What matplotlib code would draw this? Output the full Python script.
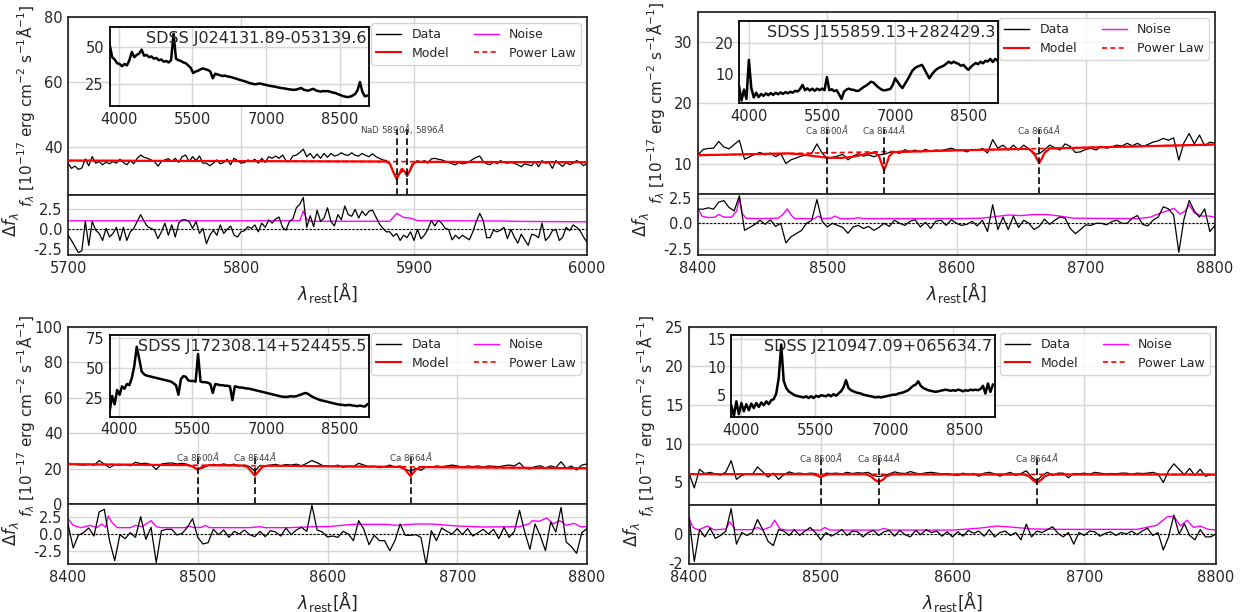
import numpy as np
import matplotlib
matplotlib.use("Agg")
import matplotlib.pyplot as plt
from matplotlib.ticker import FormatStrFormatter
from matplotlib.lines import Line2D

# ---------------------------------------------------------------- data
# Panel 1: SDSS J024131.89-053139.6, 5700-6000 A (2 A sampling)
P1_NAME = "SDSS J024131.89-053139.6"
P1_RANGE = [5700, 6000]
P1_FLUX = [35.0, 33.4, 34.1, 33.1, 33.5, 36.3, 34.2, 37.0, 35.0, 35.5,
           34.5, 35.3, 34.8, 35.5, 35.0, 36.2, 35.2, 34.5, 35.8, 34.8,
           36.5, 37.5, 36.8, 36.5, 36.0, 35.5, 34.1, 35.5, 36.0, 36.4,
           35.5, 36.5, 35.2, 37.0, 37.5, 35.5, 37.0, 35.8, 37.2, 35.0,
           35.0, 34.2, 35.0, 36.0, 34.8, 35.2, 36.2, 34.5, 36.5, 35.8,
           35.0, 35.2, 36.0, 35.5, 36.2, 35.0, 36.5, 35.2, 37.0, 36.5,
           37.2, 36.5, 37.5, 35.8, 35.5, 37.2, 37.5, 38.3, 39.3, 37.0,
           38.0, 36.5, 37.8, 36.5, 38.0, 36.8, 38.0, 37.2, 37.5, 38.2,
           37.6, 37.4, 38.2, 37.4, 37.2, 38.0, 37.4, 37.0, 37.9, 37.0,
           36.5, 36.0, 35.8, 34.8, 32.5, 30.6, 31.9, 32.9, 30.9, 32.9,
           35.0, 35.8, 35.2, 35.8, 35.0, 36.3, 36.5, 36.2, 36.0, 35.6,
           35.2, 34.8, 34.5, 35.2, 34.8, 35.0, 35.5, 36.2, 36.8, 37.2,
           35.5, 34.8, 34.5, 35.5, 34.8, 35.8, 35.2, 35.0, 35.2, 35.0,
           34.5, 33.9, 34.8, 34.5, 34.2, 35.5, 33.9, 35.8, 35.0, 35.2,
           33.4, 35.8, 34.8, 34.0, 35.2, 34.5, 35.0, 35.8, 35.2, 34.2,
           35.0]
P1_RESID = [-0.73, -1.38, -2.15, -2.9, -2.67, 1.0, -2.0, 1.0, -0.1, -0.5,
            -1.38, 0.13, -0.95, -0.5, 0.26, -1.38, 0.26, -1.38, -0.3, 0.13,
            1.0, 1.85, 1.0, 0.34, 0.13, -0.1, -1.16, -0.3, 0.78, -0.73,
            0.56, -0.95, 0.78, 1.2, 1.2, 1.0, 0.13, 1.0, -0.5, 0.13,
            -1.8, -0.73, -0.1, -0.73, 0.56, -0.5, 0.0, 0.43, -0.73, -0.95,
            -0.3, -0.17, 0.34, 0.13, 0.56, -0.3, 0.78, 0.26, 1.2, 0.78,
            1.3, 1.55, 0.26, -0.1, 1.0, 1.3, 2.7, 3.15, 4.0, 0.26,
            1.7, 0.34, 2.4, 1.0, 1.42, 2.7, 1.0, 0.43, 1.85, 1.2,
            2.93, 1.85, 1.64, 2.5, 1.42, 2.28, 1.72, 2.28, 2.41, 1.55,
            0.69, 0.13, -0.3, -0.3, -0.86, -0.52, -1.38, -0.73, -1.03, -0.3,
            -1.38, 0.0, -1.16, -0.73, 0.0, 1.12, 0.43, 1.12, 0.78, 0.13,
            0.0, -1.3, -0.73, -1.16, -0.73, -1.03, -1.3, -0.3, 1.0, 2.0,
            1.12, -1.03, -1.03, -0.09, -0.3, -0.1, 0.26, -1.16, 0.0, -0.95,
            -1.72, -0.6, -1.3, -2.0, -0.6, -0.73, -1.03, 0.78, -1.38, -0.95,
            -0.17, 0.0, -1.38, -0.95, 0.26, -0.17, 0.56, 0.26, -0.17, -0.95,
            -1.6]
P1_NOISE_WL = [5700, 5834, 5836, 5838, 5840, 5886, 5890, 5894, 5898, 5902, 5950, 5960, 6000]
P1_NOISE = [1.08, 1.08, 2.3, 1.25, 1.02, 1.02, 2.0, 1.5, 1.4, 1.1, 1.05, 1.0, 0.95]
P1_MODEL_WL = [5700, 5884, 5886, 5888, 5890, 5891.5, 5893, 5894.5, 5896, 5897.5, 5899, 5901, 6000]
P1_MODEL = [35.8, 35.5, 34.9, 32.3, 30.1, 31.8, 33.3, 32.4, 31.4, 32.6, 34.6, 35.4, 35.3]
P1_PL_WL = [5700, 6000]
P1_PL = [35.8, 35.3]
P1_LINES = [5890, 5896]
P1_LABELS = [r"NaD 5890$\AA$, 5896$\AA$"]
P1_LABEL_X = [5893.5]
P1_INSET_RANGE = [3815, 9065]
P1_INSET = [51, 43, 41.5, 39, 38.5, 37, 38.5, 37.5, 41, 46.5,
            43, 44.5, 45.5, 48, 44, 44.5, 43, 43.5, 42, 42.5,
            41, 41.5, 40, 40.5, 39.5, 41, 58.5, 42, 41, 40.5,
            39.5, 39, 37.5, 36, 32.5, 33.5, 34, 35, 35.5, 35,
            34.5, 33.5, 29, 32, 31.5, 31, 30.5, 30.8, 30.2, 30,
            29.5, 29, 28.5, 28, 27.5, 27, 26.5, 25.8, 25.5, 25,
            25.2, 25.6, 25.2, 24.8, 24.5, 24, 23.8, 23.5, 23.2, 22.8,
            22.5, 22.3, 22, 21.7, 21.5, 21.3, 21.5, 22, 22.6, 21.5,
            21, 20.8, 21.5, 22, 21, 20.5, 20.2, 20.5, 20.4, 20.5,
            20, 19.5, 19.2, 18.5, 17.9, 17.2, 16.8, 16.5, 16.8, 17.5,
            18.5, 21, 26.5, 20, 17, 17.5]

# Panel 2: SDSS J155859.13+282429.3, 8400-8800 A (4 A sampling)
P2_NAME = "SDSS J155859.13+282429.3"
P2_RANGE = [8400, 8800]
P2_FLUX = [11.5, 12.4, 12.56, 12.6, 13.7, 12.8, 12.5, 13.2, 13.9, 10.8,
           11.2, 11.6, 11.9, 11.5, 11.8, 11.2, 11.7, 10.1, 10.7, 11.0,
           11.3, 11.5, 11.75, 13.3, 11.8, 10.9, 11.1, 11.3, 11.6, 10.7,
           11.3, 11.7, 11.3, 11.5, 11.2, 11.5, 11.6, 11.9, 12.0, 11.75,
           12.35, 12.0, 12.3, 12.0, 12.4, 12.1, 12.3, 12.2, 12.4, 12.6,
           12.3, 12.3, 12.0, 12.4, 12.2, 12.56, 11.8, 14.0, 12.6, 13.1,
           12.3, 13.1, 12.3, 13.1, 12.5, 11.6, 11.7, 12.3, 13.1, 12.7,
           12.3, 13.3, 12.9, 11.9, 12.0, 12.4, 12.6, 12.3, 12.9, 12.6,
           12.8, 13.1, 12.95, 13.4, 13.0, 13.4, 12.9, 13.2, 13.6, 13.8,
           14.2, 13.9, 14.3, 10.65, 13.5, 15.0, 13.3, 14.75, 13.0, 13.6,
           13.4]
P2_RESID = [1.37, 1.37, 1.5, 1.37, 2.05, 2.2, 1.54, 1.2, 2.67, -0.68,
            -0.4, -0.1, 0.3, -0.1, 0.34, -0.3, 0.0, -1.9, -1.3, -1.0,
            -0.7, 0.0, 0.3, 2.3, 0.2, -0.35, 0.0, -0.2, -0.4, -0.96,
            -0.35, -0.2, -0.5, -0.3, -0.68, -0.4, 0.0, -0.3, 0.3, 0.0,
            -0.2, 0.2, 0.34, -0.35, 0.1, -0.5, 0.2, 0.3, -0.2, 0.34,
            0.0, -0.2, -0.1, 0.2, -0.25, 0.3, -0.8, 1.8, -0.6, 0.6,
            -0.6, 0.7, -0.4, 0.3, 0.0, -0.6, -0.3, 0.4, -0.1, 0.3,
            0.6, 0.5, -0.5, -1.0, -0.6, -0.15, -0.2, 0.0, 0.0, -0.15,
            0.15, 0.3, 0.0, 0.0, 0.5, 0.75, -0.1, -0.25, 0.3, 0.6,
            1.6, 1.4, 0.8, -2.8, 0.4, 2.2, 1.2, 0.6, 1.4, -0.8,
            -0.2]
P2_NOISE_WL = [8400, 8403, 8408, 8413, 8416, 8420, 8426, 8430, 8432, 8434, 8437, 8445,
               8462, 8466, 8469, 8472, 8475, 8490, 8493, 8496, 8503, 8506, 8510, 8520,
               8524, 8528, 8600, 8620, 8640, 8650, 8660, 8670, 8680, 8690, 8740, 8750,
               8758, 8765, 8768, 8773, 8777, 8780, 8784, 8790, 8795, 8800]
P2_NOISE = [1.45, 0.7, 0.55, 0.6, 0.85, 0.6, 0.6, 1.2, 2.5, 1.0, 0.5, 0.45,
            0.5, 0.9, 1.4, 0.8, 0.45, 0.45, 0.7, 0.45, 0.5, 0.7, 0.45, 0.45,
            0.55, 0.45, 0.45, 0.5, 0.8, 0.75, 0.85, 0.85, 0.7, 0.5, 0.45, 0.6,
            1.0, 1.3, 1.45, 0.9, 1.2, 1.8, 1.0, 0.7, 0.7, 0.6]
P2_MODEL_WL = [8400, 8470, 8480, 8490, 8500, 8510, 8520, 8530, 8537, 8540, 8542, 8544,
               8546, 8548, 8551, 8600, 8656, 8660, 8662, 8664, 8666, 8668, 8672, 8700, 8800]
P2_MODEL = [11.45, 11.75, 11.6, 11.3, 11.05, 11.0, 11.2, 11.65, 11.9, 11.3, 10.1, 9.0,
            10.1, 11.3, 11.95, 12.25, 12.5, 11.8, 10.9, 10.2, 10.9, 11.8, 12.55, 12.7, 13.2]
P2_PL_WL = [8400, 8500, 8600, 8700, 8800]
P2_PL = [11.45, 11.85, 12.25, 12.7, 13.2]
P2_LINES = [8500, 8544, 8664]
P2_LABELS = [r"Ca 8500$\AA$", r"Ca 8544$\AA$", r"Ca 8664$\AA$"]
P2_LABEL_X = [8500, 8544, 8664]
P2_INSET_RANGE = [3805, 9095]
P2_INSET = [6.0, 1.5, 5.0, 2.0, 14.5, 5.5, 2.5, 4.0, 2.6, 3.6,
            3.0, 3.8, 3.2, 3.9, 3.3, 4.0, 3.5, 4.1, 3.6, 4.2,
            3.8, 4.3, 4.0, 4.6, 4.4, 5.2, 6.5, 4.8, 5.4, 4.7,
            5.3, 4.6, 5.3, 4.8, 5.3, 4.8, 9.0, 4.8, 5.1, 4.5,
            4.8, 3.5, 2.0, 4.3, 5.0, 5.3, 5.0, 4.9, 4.6, 4.6,
            5.2, 5.8, 6.2, 6.8, 7.5, 7.3, 6.5, 5.8, 5.2, 4.8,
            4.8, 5.0, 5.2, 6.5, 8.6, 7.5, 6.3, 5.5, 6.8, 8.1,
            9.5, 11.0, 11.8, 12.3, 12.6, 12.9, 11.5, 10.0, 8.6, 9.8,
            10.8, 11.5, 12.0, 12.3, 12.7, 13.3, 13.9, 13.4, 13.9, 13.5,
            13.2, 12.6, 12.9, 12.0, 11.3, 12.2, 12.9, 13.5, 13.1, 13.9,
            13.4, 14.2, 14.0, 14.8, 13.8, 14.8, 14.2]

# Panel 3: SDSS J172308.14+524455.5, 8400-8800 A (4 A sampling)
P3_NAME = "SDSS J172308.14+524455.5"
P3_RANGE = [8400, 8800]
P3_FLUX = [23.0, 22.6, 22.2, 22.0, 22.4, 21.9, 24.5, 22.6, 20.5, 22.2,
           22.0, 22.3, 21.6, 23.6, 22.8, 23.0, 22.2, 19.5, 22.6, 23.0,
           23.2, 22.6, 23.0, 22.4, 21.0, 19.8, 20.4, 21.8, 22.4, 22.0,
           22.6, 22.0, 22.5, 21.5, 22.0, 21.1, 18.6, 21.8, 21.5, 22.0,
           22.4, 21.6, 22.3, 22.0, 22.5, 21.6, 23.0, 24.6, 23.3, 21.8,
           21.5, 21.1, 22.0, 20.7, 21.5, 21.1, 23.0, 22.0, 21.1, 21.4,
           20.5, 21.0, 22.0, 20.8, 21.5, 19.6, 18.5, 20.2, 19.0, 21.1,
           20.7, 21.5, 21.1, 21.5, 22.0, 21.5, 20.8, 21.5, 21.1, 21.5,
           20.8, 21.5, 21.3, 21.1, 21.6, 22.0, 21.5, 23.3, 20.2, 19.8,
           21.1, 21.6, 20.3, 21.5, 20.6, 23.9, 20.2, 21.5, 19.2, 22.0,
           22.6]
P3_RESID = [1.5, -2.1, -0.17, 0.2, 0.9, -0.3, 3.3, 3.7, -1.0, -4.0,
            -0.1, -0.7, 0.2, -0.5, 2.6, -0.8, 1.0, -4.3, 0.5, 0.7,
            0.7, -0.15, 0.1, 1.0, 2.3, -0.5, -1.5, -1.3, 0.7, -0.1,
            0.6, -0.5, 0.4, 0.0, 0.6, -0.1, -0.4, 0.4, -0.4, 0.5,
            0.3, -0.3, 0.9, -0.1, 0.6, 1.0, 0.4, 4.3, 0.6, 0.3,
            -0.45, -0.3, -0.5, 0.4, 0.0, -1.0, 2.0, 0.7, -1.6, -0.2,
            -1.0, -1.0, -2.5, -1.0, 1.5, -0.2, -0.2, -0.1, -0.5, -4.6,
            0.5, -1.0, 0.9, 0.4, 0.0, 0.8, -0.1, 0.8, -0.3, 0.2,
            0.7, 0.0, 0.7, -0.7, 1.0, -0.5, 0.4, 3.55, 0.3, -2.3,
            1.5, -0.3, -2.5, 1.8, 0.3, 4.0, -1.2, -1.9, -2.9, 0.2,
            0.8]
P3_NOISE_WL = [8400, 8404, 8410, 8417, 8422, 8426, 8429, 8431, 8434, 8438, 8448, 8452,
               8457, 8464, 8468, 8472, 8490, 8493, 8497, 8503, 8506, 8509, 8540, 8548,
               8552, 8570, 8590, 8600, 8620, 8645, 8652, 8668, 8680, 8700, 8720, 8748,
               8755, 8758, 8763, 8769, 8774, 8779, 8784, 8790, 8795, 8800]
P3_NOISE = [2.3, 1.3, 0.95, 1.3, 0.95, 1.5, 1.0, 2.7, 1.7, 0.95, 0.95, 1.3,
            1.1, 2.0, 1.1, 0.95, 0.95, 1.2, 0.95, 1.0, 1.3, 0.95, 0.95, 1.1,
            0.95, 0.95, 1.1, 1.1, 1.45, 1.45, 1.3, 1.5, 1.5, 1.2, 1.05, 1.1,
            1.5, 2.0, 1.9, 2.4, 1.5, 2.0, 1.3, 1.6, 1.1, 1.1]
P3_MODEL_WL = [8400, 8492, 8496, 8500, 8504, 8508, 8534, 8538, 8541, 8544, 8547, 8550,
               8554, 8656, 8660, 8662, 8664, 8666, 8668, 8672, 8800]
P3_MODEL = [22.5, 21.95, 21.3, 19.3, 21.3, 21.9, 21.75, 21.1, 18.6, 16.0, 18.6, 21.1,
            21.65, 20.95, 19.4, 17.5, 15.8, 17.5, 19.4, 20.9, 20.2]
P3_PL_WL = [8400, 8600, 8800]
P3_PL = [22.5, 21.3, 20.2]
P3_LINES = [8500, 8544, 8664]
P3_LABELS = [r"Ca 8500$\AA$", r"Ca 8544$\AA$", r"Ca 8664$\AA$"]
P3_LABEL_X = [8500, 8544, 8664]
P3_INSET_RANGE = [3815, 9065]
P3_INSET = [15, 27, 20, 32, 28, 35, 33, 37, 36, 42,
            52, 68, 58, 47.5, 45, 44, 43.5, 43, 42.5, 42,
            41.5, 41, 40.5, 40, 39.5, 39, 37.5, 36, 28, 41,
            43.5, 43, 40, 39.5, 39.5, 39, 62, 39, 38.5, 38.5,
            38, 37, 29.5, 37, 36.5, 36, 36, 35.5, 35.5, 35,
            23.5, 35, 34.5, 34, 34, 33.5, 33.2, 33, 32.5, 32,
            31.5, 31, 30.5, 30, 29.5, 29, 28.5, 28, 27.5, 27,
            26.5, 26.3, 26.2, 26.5, 26.8, 26.5, 26.8, 27.5, 28.2, 29,
            29.5, 28.5, 27, 26, 25, 24.2, 23.5, 23, 22.5, 22,
            21.5, 21, 20.5, 20, 19.8, 19.5, 19.2, 19.5, 19.5, 19,
            18.8, 18.5, 19, 18.5, 18.2, 20]

# Panel 4: SDSS J210947.09+065634.7, 8400-8800 A (4 A sampling)
P4_NAME = "SDSS J210947.09+065634.7"
P4_RANGE = [8400, 8800]
P4_FLUX = [6.2, 4.3, 6.7, 6.15, 6.3, 6.1, 5.95, 6.36, 7.8, 5.4,
           5.9, 6.1, 6.0, 7.0, 6.36, 5.7, 6.2, 5.4, 6.0, 6.36,
           6.15, 6.2, 6.1, 6.2, 6.15, 5.6, 6.2, 6.15, 6.2, 6.1,
           6.3, 6.15, 6.25, 6.2, 6.3, 5.9, 5.75, 5.9, 6.1, 6.36,
           6.2, 6.15, 6.4, 6.2, 6.1, 6.25, 6.3, 6.2, 6.1, 6.15,
           6.0, 5.9, 6.2, 6.0, 6.15, 5.8, 6.2, 6.3, 6.1, 5.8,
           6.1, 6.3, 5.9, 6.15, 6.5, 5.7, 5.2, 5.9, 6.3, 5.9,
           6.2, 6.2, 5.6, 6.15, 6.1, 6.2, 6.05, 6.3, 6.2, 6.1,
           6.15, 6.1, 6.2, 6.2, 6.05, 6.2, 6.15, 6.2, 6.3, 6.1,
           5.0, 6.5, 7.4, 6.7, 6.0, 6.8, 5.9, 6.7, 5.8, 6.0,
           6.0]
P4_RESID = [1.2, -1.9, 0.3, -0.2, 0.4, -0.3, -0.1, 0.2, 1.75, -0.7,
            0.1, -0.1, 0.1, 1.0, 0.3, -0.5, -0.8, 0.3, 0.2, -0.1,
            0.3, -0.1, 0.2, 0.45, 0.1, -0.4, 0.1, -0.15, 0.05, 0.3,
            -0.1, 0.2, 0.15, -0.2, 0.1, 0.25, -0.1, 0.15, 0.25, -0.15,
            0.25, -0.05, -0.2, 0.25, -0.05, 0.3, 0.1, 0.2, -0.15, 0.15,
            -0.2, 0.15, -0.15, 0.25, 0.05, 0.2, -0.15, 0.3, -0.2, 0.1,
            0.2, -0.1, 0.1, -0.4, 0.68, -0.2, 0.2, 0.1, 0.3, 0.5,
            0.05, -0.2, 0.1, -0.7, 0.1, -0.1, 0.2, 0.15, -0.15, 0.05,
            0.15, -0.1, 0.1, 0.0, 0.2, -0.05, 0.2, 0.4, -0.1, 0.1,
            -1.1, -0.2, 1.3, 0.0, 0.7, -0.1, -0.4, 0.3, -0.2, -0.2,
            0.0]
P4_NOISE_WL = [8400, 8403, 8407, 8414, 8419, 8428, 8431, 8435, 8448, 8452, 8456, 8462,
               8465, 8469, 8474, 8500, 8503, 8507, 8544, 8548, 8552, 8600, 8620, 8634,
               8648, 8660, 8680, 8740, 8755, 8763, 8768, 8773, 8778, 8783, 8788, 8794, 8800]
P4_NOISE = [1.1, 0.45, 0.28, 0.55, 0.28, 0.35, 0.85, 0.3, 0.3, 0.45, 0.28, 0.5,
            0.95, 0.35, 0.27, 0.27, 0.45, 0.27, 0.27, 0.38, 0.27, 0.27, 0.4, 0.55,
            0.45, 0.35, 0.32, 0.32, 0.6, 1.18, 1.23, 0.55, 0.95, 0.45, 0.55, 0.32, 0.28]
P4_MODEL_WL = [8400, 8494, 8497, 8500, 8503, 8506, 8534, 8538, 8541, 8544, 8547, 8550,
               8554, 8654, 8658, 8661, 8664, 8667, 8670, 8674, 8800]
P4_MODEL = [6.07, 6.06, 5.9, 5.75, 5.9, 6.05, 6.05, 5.8, 5.35, 5.05, 5.35, 5.8,
            6.04, 6.03, 5.8, 5.3, 4.95, 5.3, 5.8, 6.03, 6.02]
P4_PL_WL = [8400, 8800]
P4_PL = [6.07, 6.02]
P4_LINES = [8500, 8544, 8664]
P4_LABELS = [r"Ca 8500$\AA$", r"Ca 8544$\AA$", r"Ca 8664$\AA$"]
P4_LABEL_X = [8500, 8544, 8664]
P4_INSET_RANGE = [3815, 9065]
P4_INSET = [3.0, 1.2, 3.8, 1.5, 3.5, 2.0, 3.3, 2.2, 3.4, 2.6,
            3.5, 2.8, 3.6, 3.1, 3.8, 3.3, 4.0, 4.2, 5.2, 8.0,
            14.0, 7.5, 6.2, 5.6, 5.3, 5.0, 4.8, 4.7, 4.6, 4.5,
            4.7, 4.4, 4.7, 4.4, 4.8, 4.6, 4.9, 4.8, 4.7, 5.0,
            4.7, 5.1, 4.8, 5.2, 5.6, 6.3, 7.6, 6.2, 5.8, 5.6,
            5.4, 5.3, 5.2, 5.0, 4.9, 4.8, 4.7, 4.6, 4.5, 4.6,
            4.5, 4.6, 4.7, 4.8, 4.9, 5.0, 5.0, 5.2, 5.3, 5.4,
            5.6, 5.8, 6.2, 6.6, 6.8, 7.4, 6.6, 6.2, 6.0, 5.8,
            5.7, 5.6, 5.5, 5.6, 5.7, 5.8, 5.9, 5.8, 5.7, 5.8,
            5.7, 5.9, 5.8, 5.6, 5.8, 5.7, 5.9, 5.8, 5.9, 5.8,
            6.0, 6.6, 5.2, 7.0, 5.5, 6.8]

# ---------------------------------------------------------------- layout
W, H = 1247, 612
fig = plt.figure(figsize=(W / 100, H / 100), dpi=100)


def rect(l, t, r, b):
    return [l / W, 1 - b / H, (r - l) / W, (b - t) / H]


PANELS = [
    dict(name=P1_NAME, rng=P1_RANGE, flux=P1_FLUX, resid=P1_RESID,
         nwl=P1_NOISE_WL, noise=P1_NOISE, mwl=P1_MODEL_WL, model=P1_MODEL,
         pwl=P1_PL_WL, pl=P1_PL, lines=P1_LINES, labels=P1_LABELS, labx=P1_LABEL_X,
         irng=P1_INSET_RANGE, inset=P1_INSET,
         main=(68, 17, 587, 195), res=(68, 195, 587, 255),
         xticks=[5700, 5800, 5900, 6000], ylim=(25.2, 80), yticks=[40, 60, 80],
         rylim=(-3.2, 4.3), ryticks=[-2.5, 0.0, 2.5], rfmt='%.1f', ltop=45.5,
         iylim=(10.6, 63.3), iyticks=[25, 50], ipos=[0.08, 0.50, 0.50, 0.446],
         baseline=False),
    dict(name=P2_NAME, rng=P2_RANGE, flux=P2_FLUX, resid=P2_RESID,
         nwl=P2_NOISE_WL, noise=P2_NOISE, mwl=P2_MODEL_WL, model=P2_MODEL,
         pwl=P2_PL_WL, pl=P2_PL, lines=P2_LINES, labels=P2_LABELS, labx=P2_LABEL_X,
         irng=P2_INSET_RANGE, inset=P2_INSET,
         main=(698, 12, 1215, 194), res=(698, 194, 1215, 255),
         xticks=[8400, 8500, 8600, 8700, 8800], ylim=(5.1, 34.9), yticks=[10, 20, 30],
         rylim=(-3.07, 2.84), ryticks=[-2.5, 0.0, 2.5], rfmt='%.1f', ltop=15.7,
         iylim=(0.6, 27), iyticks=[10, 20], ipos=[0.08, 0.498, 0.50, 0.454],
         baseline=False),
    dict(name=P3_NAME, rng=P3_RANGE, flux=P3_FLUX, resid=P3_RESID,
         nwl=P3_NOISE_WL, noise=P3_NOISE, mwl=P3_MODEL_WL, model=P3_MODEL,
         pwl=P3_PL_WL, pl=P3_PL, lines=P3_LINES, labels=P3_LABELS, labx=P3_LABEL_X,
         irng=P3_INSET_RANGE, inset=P3_INSET,
         main=(68, 327, 587, 504), res=(68, 504, 587, 564),
         xticks=[8400, 8500, 8600, 8700, 8800], ylim=(0, 100),
         yticks=[0, 20, 40, 60, 80, 100],
         rylim=(-4.5, 4.5), ryticks=[-2.5, 0.0, 2.5], rfmt='%.1f', ltop=27.0,
         iylim=(9.7, 77.8), iyticks=[25, 50, 75], ipos=[0.08, 0.493, 0.50, 0.462],
         baseline=True),
    dict(name=P4_NAME, rng=P4_RANGE, flux=P4_FLUX, resid=P4_RESID,
         nwl=P4_NOISE_WL, noise=P4_NOISE, mwl=P4_MODEL_WL, model=P4_MODEL,
         pwl=P4_PL_WL, pl=P4_PL, lines=P4_LINES, labels=P4_LABELS, labx=P4_LABEL_X,
         irng=P4_INSET_RANGE, inset=P4_INSET,
         main=(689, 327, 1216, 505), res=(689, 505, 1216, 564),
         xticks=[8400, 8500, 8600, 8700, 8800], ylim=(2.1, 25),
         yticks=[5, 10, 15, 20, 25],
         rylim=(-2.07, 2.0), ryticks=[-2, 0], rfmt='%d', ltop=8.2,
         iylim=(0.95, 15.7), iyticks=[5, 10, 15], ipos=[0.08, 0.493, 0.50, 0.462],
         baseline=False),
]

TICK_FS = 10.5
GRID_C = '#d6d6d6'
SPINE_C = '#2b2b2b'
TXT_C = '#262626'


def style(ax):
    ax.set_facecolor('white')
    ax.grid(True, color=GRID_C, lw=1.0)
    ax.set_axisbelow(True)
    for s in ax.spines.values():
        s.set_color(SPINE_C)
        s.set_linewidth(1.3)
    ax.tick_params(length=0, labelsize=TICK_FS, colors=TXT_C, pad=4)


for p in PANELS:
    ax = fig.add_axes(rect(*p['main']))
    rx = fig.add_axes(rect(*p['res']), sharex=ax)
    style(ax)
    style(rx)

    wl = np.linspace(p['rng'][0], p['rng'][1], len(p['flux']))
    ax.plot(wl, p['flux'], color='black', lw=0.9, zorder=3)
    ax.plot(p['mwl'], p['model'], color='red', lw=1.6, zorder=4)
    ax.plot(p['pwl'], p['pl'], color='red', lw=1.2, ls=(0, (3, 2)), zorder=4)
    if p['baseline']:
        ax.axhline(0, color='#1b2f5e', lw=1.8, zorder=5)

    ymin = p['ylim'][0]
    for x in p['lines']:
        ax.plot([x, x], [ymin, p['ltop']], color='black', lw=1.2,
                ls=(0, (4, 2)), zorder=6)
    for lab, lx in zip(p['labels'], p['labx']):
        ax.text(lx, p['ltop'], lab, ha='center', va='center', fontsize=6.3,
                color='#404040', zorder=7)

    ax.set_xlim(*p['rng'])
    ax.set_ylim(*p['ylim'])
    ax.set_yticks(p['yticks'])
    ax.yaxis.set_major_formatter(FormatStrFormatter('%d'))
    plt.setp(ax.get_xticklabels(), visible=False)
    ax.set_ylabel(r"$f_\lambda$ [$10^{-17}$ erg cm$^{-2}$ s$^{-1}$Å$^{-1}$]",
                  fontsize=11, color=TXT_C)
    ax.yaxis.set_label_coords(-0.060, 0.5)

    handles = [Line2D([], [], color='black', lw=1.0),
               Line2D([], [], color='red', lw=1.5),
               Line2D([], [], color='magenta', lw=1.0),
               Line2D([], [], color='red', lw=1.2, ls=(0, (3, 2)))]
    leg = ax.legend(handles, ['Data', 'Model', 'Noise', 'Power Law'], ncol=2,
                    loc='upper right', fontsize=9, frameon=True, fancybox=True,
                    handlelength=2.0, handletextpad=0.8, columnspacing=2.0,
                    borderaxespad=0.5, labelspacing=0.45)
    leg.get_frame().set_edgecolor('#cccccc')
    for t in leg.get_texts():
        t.set_color(TXT_C)

    # residual
    rwl = np.linspace(p['rng'][0], p['rng'][1], len(p['resid']))
    rx.plot(rwl, p['resid'], color='black', lw=0.9, zorder=3)
    rx.plot(p['nwl'], p['noise'], color='magenta', lw=1.0, zorder=2)
    rx.axhline(0, color='black', lw=0.8, ls=(0, (2, 1.5)), zorder=1)
    rx.set_ylim(*p['rylim'])
    rx.set_yticks(p['ryticks'])
    rx.yaxis.set_major_formatter(FormatStrFormatter(p['rfmt']))
    rx.set_xticks(p['xticks'])
    rx.set_xlim(*p['rng'])
    rx.set_ylabel(r"$\Delta f_\lambda$", fontsize=12, color=TXT_C)
    rx.yaxis.set_label_coords(-0.090, 0.5)
    rx.set_xlabel(r"$\lambda_{\rm rest}$[Å]", fontsize=12.5, color=TXT_C, labelpad=3)

    # inset
    ins = ax.inset_axes(p['ipos'])
    style(ins)
    ins.set_zorder(8)
    for s in ins.spines.values():
        s.set_color('black')
    iwl = np.linspace(p['irng'][0], p['irng'][1], len(p['inset']))
    ins.plot(iwl, p['inset'], color='black', lw=1.8)
    ins.set_xlim(3810, 9100)
    ins.set_ylim(*p['iylim'])
    ins.set_xticks([4000, 5500, 7000, 8500])
    ins.set_yticks(p['iyticks'])
    ins.text(0.99, 0.95, p['name'], transform=ins.transAxes, ha='right', va='top',
             fontsize=11.5, color=TXT_C)

fig.savefig("out.png", dpi=100, facecolor='white')
